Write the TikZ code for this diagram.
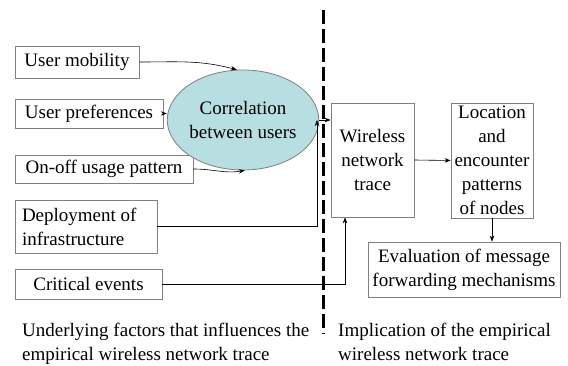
\documentclass[tikz,border=0pt]{standalone}
\usepackage{fontspec}
\setmainfont{Liberation Serif}
\newfontfamily\figfont{Liberation Serif}
\usetikzlibrary{arrows.meta,shapes.geometric}
\definecolor{boxgray}{RGB}{128,128,128}
\definecolor{corrblue}{RGB}{183,222,224}
\begin{document}
\begin{tikzpicture}[
			x=1pt, y=-1pt,
			every node/.style={font=\figfont\fontsize{19}{24}\selectfont, inner sep=0},
			box/.style={draw=boxgray, line width=0.8pt},
			link/.style={-{Stealth[length=6pt,width=4.5pt]}, line width=0.6pt},
		]
		\useasboundingbox (0,0) rectangle (568,366);
		% underlying factors
		\node[box, minimum width=124, minimum height=32] (mobility) at (77,62) {User mobility};
		\node[box, minimum width=148, minimum height=29] (prefs) at (89,113.5) {User preferences};
		\node[box, minimum width=178, minimum height=28] (onoff) at (104,169) {On-off usage pattern};
		\node[box, minimum width=142, minimum height=53, text width=128, align=flush left] (deploy) at (86,226.5) {Deployment of\\infrastructure};
		\node[box, minimum width=147, minimum height=30] (events) at (88.5,284) {Critical events};
		\node[ellipse, draw=boxgray, line width=0.8pt, fill=corrblue, minimum width=123, minimum height=100, align=center] (corr) at (243,120) {Correlation\\between users};
		% implications
		\node[box, minimum width=83, minimum height=114, align=center] (trace) at (372.5,160) {Wireless\\network\\trace};
		\node[box, minimum width=82, minimum height=115, align=center] (patterns) at (492,160.5) {Location\\and\\encounter\\patterns\\of nodes};
		\node[box, minimum width=192, minimum height=55, align=center] (eval) at (464,269.5) {Evaluation of message\\forwarding mechanisms};
		% captions
		\node[anchor=north west, align=left] (leftcap) at (22,323) {Underlying factors that influences the\\empirical wireless network trace};
		\node[anchor=north west, align=left] (rightcap) at (338,323) {Implication of the empirical\\wireless network trace};
		% divider
		\coordinate (divtop) at (323,10);
		\coordinate (divbot) at (323,334);
		\draw[line width=3pt, dash pattern=on 14pt off 5pt] (divtop) -- (divbot);
		% connectors
		\coordinate (merge) at (317,120);
		\draw[link] (mobility.east) to[out=0, in=165] (corr.97);
		\draw[link] (prefs.east) -- (corr.west |- prefs.east);
		\draw[link] (onoff.east) to[out=0, in=190] (corr.-88);
		\draw[link] (corr.east) -- (corr.east -| trace.west);
		\draw[link] (deploy.east) -| (merge);
		\draw[link] (events.east) -| ([xshift=-27.5pt]trace.south);
		\draw[link] (trace.east) -- (patterns.west);
		\draw[link] (patterns.south) -- (patterns.south |- eval.north);
\end{tikzpicture}
\end{document}
